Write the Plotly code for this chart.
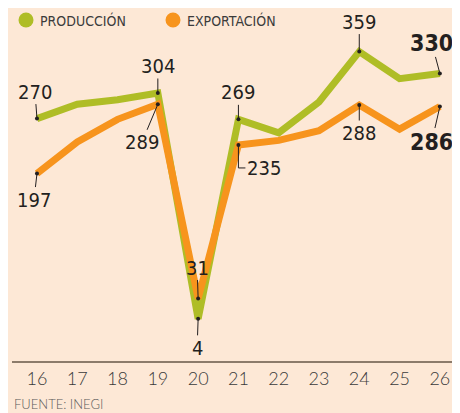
import plotly.graph_objects as go

years = [16, 17, 18, 19, 20, 21, 22, 23, 24, 25, 26]
tick_labels = ["16", "17", "18", "19", "20", "21", "22", "23", "24", "25", "26"]
produccion = [270, 289, 295, 304, 4, 269, 251, 292, 359, 323, 330]
exportacion = [197, 239, 269, 289, 31, 235, 241, 254, 288, 256, 286]
series_names = ["PRODUCCIÓN", "EXPORTACIÓN"]

prod_labeled_years = [16, 19, 20, 21, 24, 26]
exp_labeled_years = [16, 19, 20, 21, 24, 26]

BG = "#FDE8D6"
GREEN = "#AFBD26"
ORANGE = "#F7941D"
TXT = "#231F20"
LBL_FONT = "DejaVu Sans Condensed, DejaVu Sans, sans-serif"


def cond(t):
    return '<span style="font-stretch:condensed">' + t + '</span>'


fig = go.Figure()
fig.add_trace(go.Scatter(x=years, y=produccion, mode="lines", name=series_names[0],
                         line=dict(color=GREEN, width=7), showlegend=False))
fig.add_trace(go.Scatter(x=years, y=exportacion, mode="lines", name=series_names[1],
                         line=dict(color=ORANGE, width=7), showlegend=False))

px = list(prod_labeled_years) + list(exp_labeled_years)
py = [produccion[years.index(y)] for y in prod_labeled_years] + \
     [exportacion[years.index(y)] for y in exp_labeled_years]
fig.add_trace(go.Scatter(x=px, y=py, mode="markers",
                         marker=dict(color=TXT, size=4), showlegend=False))


def lab(x, y, text, ax, ay, bold=False, size=20):
    fig.add_annotation(x=x, y=y, xref="x", yref="y", text=cond(text),
                       showarrow=True, arrowhead=0, arrowwidth=1, arrowcolor=TXT,
                       ax=ax, ay=ay, standoff=0,
                       font=dict(family=LBL_FONT, size=size, color=TXT,
                                 weight="bold" if bold else "normal"),
                       borderpad=0)


def pv(series, yr):
    return series[years.index(yr)]


lab(16, pv(produccion, 16), str(pv(produccion, 16)), -2, -27)
lab(19, pv(produccion, 19), str(pv(produccion, 19)), 0, -27)
lab(21, pv(produccion, 21), str(pv(produccion, 21)), 0, -27)
lab(24, pv(produccion, 24), str(pv(produccion, 24)), 0, -30)
lab(26, pv(produccion, 26), str(pv(produccion, 26)), -8, -30, bold=True, size=23)
lab(20, pv(produccion, 20), str(pv(produccion, 20)), -1, 29)
lab(16, pv(exportacion, 16), str(pv(exportacion, 16)), -3, 26)
lab(19, pv(exportacion, 19), str(pv(exportacion, 19)), -16, 38)
lab(20, pv(exportacion, 20), str(pv(exportacion, 20)), -1, -31)
lab(24, pv(exportacion, 24), str(pv(exportacion, 24)), 0, 28)
lab(26, pv(exportacion, 26), str(pv(exportacion, 26)), -8, 35, bold=True, size=23)

# 235 with bracket leader
fig.add_annotation(x=21, y=pv(exportacion, 21), xref="x", yref="y",
                   text=cond(str(pv(exportacion, 21))), showarrow=False,
                   xanchor="left", xshift=7, yshift=-23,
                   font=dict(family=LBL_FONT, size=20, color=TXT))
fig.add_shape(type="path", xref="x", yref="y",
              xsizemode="pixel", ysizemode="pixel",
              xanchor=21, yanchor=pv(exportacion, 21),
              path="M0,0 V-23 H7", line=dict(color=TXT, width=1))

# legend (circles + text)
leg_x = [0.03125, 0.3594]
leg_y = 0.966
for name, col, lx in zip(series_names, [GREEN, ORANGE], leg_x):
    fig.add_shape(type="circle", xref="paper", yref="paper",
                  xsizemode="pixel", ysizemode="pixel",
                  xanchor=lx, yanchor=leg_y,
                  x0=-7.5, x1=7.5, y0=-7.5, y1=7.5,
                  fillcolor=col, line=dict(width=0))
    fig.add_annotation(x=lx, y=leg_y, xref="paper", yref="paper", text=cond(name),
                       showarrow=False, xanchor="left", yanchor="middle", xshift=12,
                       font=dict(family=LBL_FONT, size=14, color="#3B3B3B"))

fig.add_annotation(x=0, y=0, xref="paper", yref="paper", text="FUENTE: INEGI",
                   showarrow=False, xanchor="left", yanchor="middle",
                   yshift=-43, xshift=0,
                   font=dict(family="Lato, sans-serif", size=13, color="#5A5A5A",
                             weight=300))

fig.update_layout(
    width=452, height=405,
    margin=dict(l=4, r=0, t=0, b=52, autoexpand=False),
    paper_bgcolor=BG, plot_bgcolor=BG,
    showlegend=False,
    xaxis=dict(range=[15.38, 26.5], showgrid=False, zeroline=False, automargin=False,
               showline=True, linecolor="#8C7B6B", linewidth=2,
               tickmode="array", tickvals=years, ticktext=tick_labels,
               ticks="", tickfont=dict(family="Lato, sans-serif", size=18, color="#3A3A3A",
                                       weight=300),
               fixedrange=True),
    yaxis=dict(range=[-52, 416.9], showgrid=False, zeroline=False, automargin=False,
               showticklabels=False, showline=False, fixedrange=True),
)

fig.write_html("out.html")
